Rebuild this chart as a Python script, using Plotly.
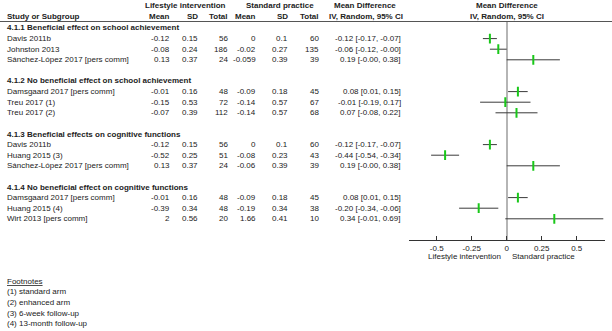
import plotly.graph_objects as go

# ---------------- data ----------------
group_titles = [
    "4.1.1 Beneficial effect on school achievement",
    "4.1.2 No beneficial effect on school achievement",
    "4.1.3 Beneficial effects on cognitive functions",
    "4.1.4 No beneficial effect on cognitive functions",
]
group_of_study = [0, 0, 0, 1, 1, 1, 2, 2, 2, 3, 3, 3]
studies = [
    "Davis 2011b", "Johnston 2013", "Sánchez-López 2017 [pers comm]",
    "Damsgaard 2017 [pers comm]", "Treu 2017 (1)", "Treu 2017 (2)",
    "Davis 2011b", "Huang 2015 (3)", "Sánchez-López 2017 [pers comm]",
    "Damsgaard 2017 [pers comm]", "Huang 2015 (4)", "Wirt 2013 [pers comm]",
]
int_mean = [-0.12, -0.08, 0.13, -0.01, -0.15, -0.07, -0.12, -0.52, 0.13, -0.01, -0.39, 2]
int_sd = [0.15, 0.24, 0.37, 0.16, 0.53, 0.39, 0.15, 0.25, 0.37, 0.16, 0.34, 0.56]
int_n = [56, 186, 24, 48, 72, 112, 56, 51, 24, 48, 48, 20]
ctl_mean = [0, -0.02, -0.059, -0.09, -0.14, -0.14, 0, -0.08, -0.06, -0.09, -0.19, 1.66]
ctl_sd = [0.1, 0.27, 0.39, 0.18, 0.57, 0.57, 0.1, 0.23, 0.39, 0.18, 0.34, 0.41]
ctl_n = [60, 135, 39, 45, 67, 68, 60, 43, 39, 45, 38, 10]
md = [-0.12, -0.06, 0.19, 0.08, -0.01, 0.07, -0.12, -0.44, 0.19, 0.08, -0.20, 0.34]
ci_low = [-0.17, -0.12, -0.0, 0.01, -0.19, -0.08, -0.17, -0.54, -0.0, 0.01, -0.34, -0.01]
ci_high = [-0.07, -0.0, 0.38, 0.15, 0.17, 0.22, -0.07, -0.34, 0.38, 0.15, -0.06, 0.69]
x_ticks = [-0.5, -0.25, 0, 0.25, 0.5]
x_tick_labels = ["-0.5", "-0.25", "0", "0.25", "0.5"]
footnotes = ["(1) standard arm", "(2) enhanced arm", "(3) 6-week follow-up", "(4) 13-month follow-up"]

# ---------------- layout helpers ----------------
W, H = 612, 331
FONT = "Arial, Liberation Sans, sans-serif"
TXT = "#222222"
FS = 8
ROW0, ROWH = 28.0, 10.6      # pixel y of first row, pixel height of one row
AX_Y, TOP_Y = 240.0, 22.0    # pixel y of x-axis line and header rule

def px(x):
    return x / W

def row_to_paper(r):
    return (H - (ROW0 + ROWH * r)) / H

# row positions: group title then its studies, blank row between groups
rows_title = []
rows_study = []
r = 0
for g in range(len(group_titles)):
    rows_title.append(r)
    r += 1
    for i, gg in enumerate(group_of_study):
        if gg == g:
            rows_study.append(r)
            r += 1
    r += 1

annotations = []

def add(text, x, row, anchor="left", bold=False, size=FS):
    if bold:
        text = "<b>" + text + "</b>"
    annotations.append(dict(
        text=text, x=px(x), y=row_to_paper(row), xref="paper", yref="paper",
        xanchor=anchor, yanchor="middle", showarrow=False, borderpad=0,
        font=dict(family=FONT, size=size, color=TXT)))

# headers
add("Lifestyle intervention", 185, -2.08, "center", True)
add("Standard practice", 280, -2.08, "center", True)
add("Mean Difference", 365, -2.08, "center", True)
add("Mean Difference", 507, -2.08, "center", True)
add("Study or Subgroup", 6, -1.13, "left", True)
col_x = [171, 199, 229, 257, 289, 320]
for lbl, cx in zip(["Mean", "SD", "Total", "Mean", "SD", "Total"], col_x):
    add(lbl, cx, -1.13, "right", True)
add("IV, Random, 95% CI", 366, -1.13, "center", True)
add("IV, Random, 95% CI", 507, -1.13, "center", True)

for g, t in enumerate(group_titles):
    add(t, 6, rows_title[g], "left", True)

for i, s in enumerate(studies):
    yr = rows_study[i]
    add(s, 6, yr)
    vals = [int_mean[i], int_sd[i], int_n[i], ctl_mean[i], ctl_sd[i], ctl_n[i]]
    for v, cx in zip(vals, col_x):
        add(str(v), cx, yr, "right")
    add(f"{md[i]:.2f} [{ci_low[i]:.2f}, {ci_high[i]:.2f}]", 402, yr, "right")

add("Lifestyle intervention", 502, 21.6, "right")
add("Standard practice", 511, 21.6, "left")

add("<u>Footnotes</u>", 6, 23.9, "left")
for k, f in enumerate(footnotes):
    add(f, 6, 24.9 + k, "left")

# ---------------- traces ----------------
lx, ly = [], []
for i in range(len(studies)):
    lx += [ci_low[i], ci_high[i], None]
    ly += [rows_study[i], rows_study[i], None]

fig = go.Figure()
fig.add_trace(go.Scatter(x=lx, y=ly, mode="lines",
                         line=dict(color="#3a3a3a", width=1), hoverinfo="skip"))
fig.add_trace(go.Scatter(x=md, y=rows_study, mode="markers",
                         marker=dict(symbol="line-ns", size=7,
                                     line=dict(color="#19c819", width=2)),
                         hoverinfo="skip"))

y_bot = (H - AX_Y) / H
y_top = (H - TOP_Y) / H
r_bot = (AX_Y - ROW0) / ROWH
r_top = (TOP_Y - ROW0) / ROWH

fig.update_layout(
    width=W, height=H, autosize=False,
    margin=dict(l=0, r=0, t=0, b=0),
    paper_bgcolor="white", plot_bgcolor="white",
    showlegend=False,
    font=dict(family=FONT, size=FS, color=TXT),
    xaxis=dict(domain=[408.7 / W, 604.7 / W], range=[-0.7, 0.7],
               showgrid=False, zeroline=True, zerolinecolor="#b5b5b5", zerolinewidth=2,
               showline=True, linecolor="#333333", linewidth=1,
               ticks="inside", ticklen=4, tickcolor="#333333",
               tickvals=x_ticks, ticktext=x_tick_labels,
               tickfont=dict(family=FONT, size=FS, color=TXT), fixedrange=True),
    yaxis=dict(domain=[y_bot, y_top], range=[r_bot, r_top],
               showgrid=False, zeroline=False, showline=False,
               showticklabels=False, ticks="", fixedrange=True),
    annotations=annotations,
    shapes=[dict(type="line", xref="paper", yref="paper", x0=0, x1=1,
                 y0=(H - 21.5) / H, y1=(H - 21.5) / H,
                 line=dict(color="#555555", width=1))],
)

fig.write_html("out.html", config={"displayModeBar": False},
               post_script="document.body.style.margin='0';document.body.style.padding='0';")
